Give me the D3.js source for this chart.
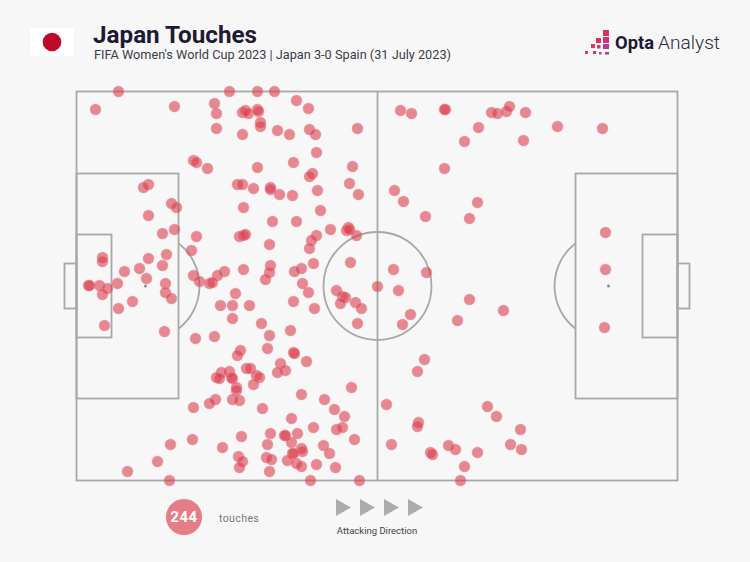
<!DOCTYPE html>
<html><head><meta charset="utf-8">
<script src="https://cdn.jsdelivr.net/npm/d3@7"></script>
<style>html,body{margin:0;padding:0;background:#f7f7f7}svg{display:block}text{font-family:Roboto,"Noto Sans",sans-serif}</style>
</head><body><svg id="c" width="750" height="562"></svg>
<script>
const titleText = "Japan Touches";
const subtitleText = "FIFA Women's World Cup 2023 | Japan 3-0 Spain (31 July 2023)";
const touchCount = "244";
const touchLabel = "touches";
const directionLabel = "Attacking Direction";
const directionMarks = [0, 1, 2, 3];
// [along pitch, across pitch] in pitch units (pitch = 601 x 389)
const ownEndTouches = [[42,0],[19,18],[98,15],[117,69],[120,71],[72,93],[67,96],[95,112],[100,116],[72,124],[86,142],[98,138],[120,145],[115,159],[90,163],[72,167],[26,166],[26,170],[86,174],[63,177],[48,180],[117,184],[70,187],[12,194],[13,194],[23,194],[41,192],[31,197],[26,203],[89,192],[89,201],[95,207],[56,210],[42,217],[28,234],[88,240],[119,247],[123,190],[117,316],[116,348],[94,353],[81,370],[51,380],[93,389]];
const upperMidTouches = [[138,12],[140,22],[140,37],[131,77],[153,0],[181,0],[198,0],[220,9],[232,17],[166,21],[169,19],[172,22],[181,18],[182,20],[184,31],[184,35],[166,43],[201,39],[213,43],[233,38],[239,43],[281,37],[240,61],[181,76],[217,71],[276,75],[236,82],[233,85],[273,92],[282,103],[161,93],[166,93],[177,97],[194,96],[194,98],[203,103],[216,104],[241,99],[167,116],[244,119]];
const centreMidTouches = [[196,130],[220,130],[254,138],[272,136],[270,139],[273,138],[280,144],[163,145],[167,144],[169,143],[240,144],[235,149],[233,157],[193,153],[274,171],[194,174],[237,172],[225,177],[218,180],[167,178],[148,180],[141,184],[193,181],[189,188],[133,192],[136,191],[226,192],[301,195],[232,201],[260,199],[159,202],[217,210],[144,214],[156,214],[173,214],[238,217],[266,205],[269,206],[264,212],[279,211],[285,217],[156,227],[281,232],[185,232],[214,239],[193,244],[138,245]];
const lowerMidTouches = [[164,259],[161,264],[191,257],[217,261],[218,262],[230,270],[204,272],[209,279],[201,281],[170,277],[174,277],[180,284],[183,286],[153,280],[145,281],[140,286],[143,287],[155,286],[156,287],[177,293],[160,296],[160,299],[139,308],[133,312],[156,308],[163,309],[186,317],[225,303],[275,296],[248,308],[258,318],[268,325],[215,327],[194,342],[208,344],[209,344],[221,342],[237,336],[260,338],[266,336],[215,351],[191,353],[247,354],[253,362],[278,348],[225,357],[226,360],[216,362],[217,362],[165,345],[146,356],[162,365],[166,370],[163,376],[190,366],[195,368],[211,369],[220,372],[225,375],[240,373],[259,376],[193,380],[234,389],[283,389]];
const attackingHalfTouches = [[324,19],[335,22],[369,18],[368,18],[415,21],[421,22],[430,20],[433,15],[449,21],[402,36],[481,35],[526,37],[388,50],[447,49],[368,77],[318,99],[327,110],[401,111],[349,125],[393,127],[529,141],[529,178],[528,236],[317,178],[350,181],[322,199],[393,208],[427,219],[334,223],[326,233],[381,229],[348,268],[341,280],[310,313],[411,315],[420,325],[342,331],[341,335],[444,338],[315,353],[372,354],[379,358],[434,353],[445,358],[354,361],[356,363],[401,361],[388,375],[384,389]];
const touches = [...ownEndTouches, ...upperMidTouches, ...centreMidTouches, ...lowerMidTouches, ...attackingHalfTouches];

const svg = d3.select("#c");
svg.append("rect").attr("width",750).attr("height",562).attr("fill","#f7f7f7");
const x = d3.scaleLinear().domain([0,601]).range([76.5,677.5]);
const y = d3.scaleLinear().domain([0,389]).range([91.5,480.5]);

// pitch
const line = "#a8a8a8";
const p = svg.append("g").attr("fill","none").attr("stroke",line).attr("stroke-width",1.8);
const rect=(x0,y0,x1,y1)=>p.append("rect").attr("x",x(x0)).attr("y",y(y0)).attr("width",x(x1)-x(x0)).attr("height",y(y1)-y(y0));
rect(0,0,601,389);
rect(0,82,102,307); rect(499,82,601,307);
rect(0,143,35,246); rect(566,143,601,246);
rect(-12,172,0,217); rect(601,172,613,217);
p.append("line").attr("x1",x(301)).attr("x2",x(301)).attr("y1",y(0)).attr("y2",y(389));
p.append("circle").attr("cx",x(301)).attr("cy",y(194.5)).attr("r",54);
const arc=d3.arc().innerRadius(54).outerRadius(54);
const ang=Math.acos(33/54);
p.append("path").attr("d",arc({startAngle:Math.PI/2-ang,endAngle:Math.PI/2+ang})).attr("transform",`translate(${x(69)},${y(194.5)})`);
p.append("path").attr("d",arc({startAngle:-Math.PI/2-ang,endAngle:-Math.PI/2+ang})).attr("transform",`translate(${x(532)},${y(194.5)})`);
svg.append("g").selectAll("circle").data([69,532]).join("circle").attr("cx",d=>x(d)).attr("cy",y(194.5)).attr("r",1.5).attr("fill","#888");

// touches
svg.append("g").selectAll("circle").data(touches).join("circle")
  .attr("cx",d=>x(d[0])).attr("cy",d=>y(d[1])).attr("r",5.5)
  .attr("fill","rgba(218,62,78,0.6)").attr("stroke","rgba(240,150,160,0.4)").attr("stroke-width",1);

// header
svg.append("rect").attr("x",30).attr("y",28).attr("width",44).attr("height",28).attr("fill","#fff");
svg.append("circle").attr("cx",52).attr("cy",42).attr("r",9.3).attr("fill","#bc0a2c");
svg.append("text").attr("x",93).attr("y",43).attr("font-size",23).attr("font-weight",700).attr("fill","#1d1a33").attr("textLength",164).attr("lengthAdjust","spacingAndGlyphs").text(titleText);
svg.append("text").attr("x",94).attr("y",59).attr("font-size",13).attr("fill","#3c3c46").attr("textLength",357).attr("lengthAdjust","spacingAndGlyphs").text(subtitleText);

// logo
const logoSquares=[[603,30,6,6,"#de3350"],[596,38,5,5,"#dc3352"],[603,37,6,6,"#c9357c"],[591,44,4,4,"#d83a5e"],[597,45,3.5,3.5,"#cf3a78"],[603,44,6,5,"#b43a96"],[585,51,3,3,"#d8405f"],[593,51,3,3,"#c93c80"],[599,52,2.5,2.5,"#b93c90"],[605,52,4,2.5,"#a83c9c"]];
svg.append("g").selectAll("rect").data(logoSquares).join("rect").attr("x",d=>d[0]).attr("y",d=>d[1]).attr("width",d=>d[2]).attr("height",d=>d[3]).attr("fill",d=>d[4]);
svg.append("text").attr("x",615).attr("y",49).attr("font-size",18.5).attr("font-weight",700).attr("fill","#1d1a33").attr("textLength",39).attr("lengthAdjust","spacingAndGlyphs").text("Opta");
svg.append("text").attr("x",658).attr("y",49).attr("font-size",18.5).attr("font-weight",300).attr("fill","#2c2a40").attr("textLength",62).attr("lengthAdjust","spacingAndGlyphs").text("Analyst");

// legend
svg.append("circle").attr("cx",184).attr("cy",517).attr("r",18).attr("fill","#e67c87");
svg.append("text").attr("x",184).attr("y",522).attr("text-anchor","middle").attr("font-size",15).attr("font-weight",700).attr("letter-spacing",0.5).attr("fill","#fff").text(touchCount);
svg.append("text").attr("x",219).attr("y",522).attr("font-size",10.5).attr("letter-spacing",0.4).attr("fill","#777").text(touchLabel);
const tri=d3.scaleLinear().domain([0,3]).range([336,408]);
svg.append("g").selectAll("path").data(directionMarks).join("path")
  .attr("d",d=>`M${tri(d)},499 L${tri(d)+15},507.5 L${tri(d)},516 Z`).attr("fill","#acacac");
svg.append("text").attr("x",377).attr("y",534).attr("text-anchor","middle").attr("font-size",9.5).attr("fill","#444").text(directionLabel);
</script></body></html>
